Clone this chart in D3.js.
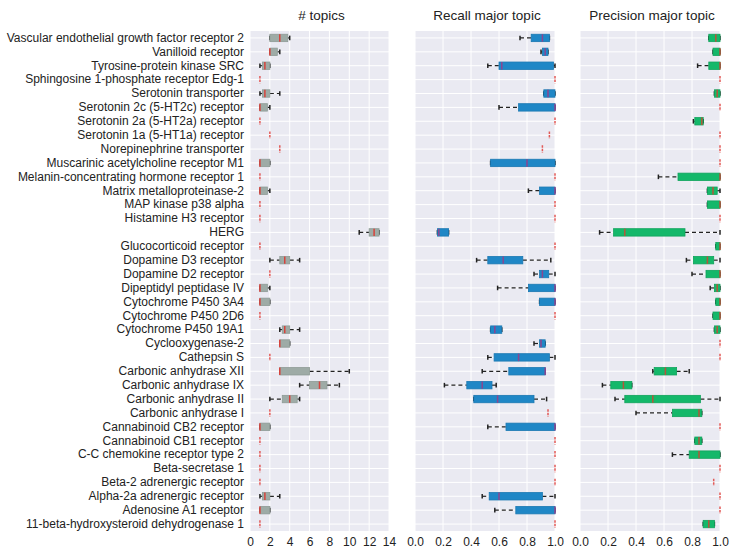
<!DOCTYPE html>
<html>
<head>
<meta charset="utf-8">
<script src="https://cdn.jsdelivr.net/npm/d3@7"></script>
<style>
  html, body { margin: 0; padding: 0; background: #fff; }
  svg { display: block; }
  text { font-family: "Liberation Sans", Arial, sans-serif; fill: #222; }
</style>
</head>
<body>
<svg id="chart" width="733" height="548"></svg>
<script>
const categories = [
  "Vascular endothelial growth factor receptor 2",
  "Vanilloid receptor",
  "Tyrosine-protein kinase SRC",
  "Sphingosine 1-phosphate receptor Edg-1",
  "Serotonin transporter",
  "Serotonin 2c (5-HT2c) receptor",
  "Serotonin 2a (5-HT2a) receptor",
  "Serotonin 1a (5-HT1a) receptor",
  "Norepinephrine transporter",
  "Muscarinic acetylcholine receptor M1",
  "Melanin-concentrating hormone receptor 1",
  "Matrix metalloproteinase-2",
  "MAP kinase p38 alpha",
  "Histamine H3 receptor",
  "HERG",
  "Glucocorticoid receptor",
  "Dopamine D3 receptor",
  "Dopamine D2 receptor",
  "Dipeptidyl peptidase IV",
  "Cytochrome P450 3A4",
  "Cytochrome P450 2D6",
  "Cytochrome P450 19A1",
  "Cyclooxygenase-2",
  "Cathepsin S",
  "Carbonic anhydrase XII",
  "Carbonic anhydrase IX",
  "Carbonic anhydrase II",
  "Carbonic anhydrase I",
  "Cannabinoid CB2 receptor",
  "Cannabinoid CB1 receptor",
  "C-C chemokine receptor type 2",
  "Beta-secretase 1",
  "Beta-2 adrenergic receptor",
  "Alpha-2a adrenergic receptor",
  "Adenosine A1 receptor",
  "11-beta-hydroxysteroid dehydrogenase 1"
];

// [min, q1, median, q3, max] per category
const topicsStats = [
  [2,2,3,3.8,4],[2,2,2,2.75,3],[1,1.25,1.5,2,2],[1,1,1,1,1],[1,1.25,1.5,2,3],
  [1,1,1,1.75,2],[1,1,1,1,1],[2,2,2,2,2],[3,3,3,3,3],[1,1,1,2,2],
  [1,1,1,1,1],[1,1,1,1.75,2],[1,1,1,1,1],[1,1,1,1,1],[11,12,12.5,13,13],
  [1,1,1,1,1],[2,3,3.5,4,5],[2,2,2,2,2],[1,1,1,1.75,2],[1,1,1,2,2],
  [1,1,1,1,1],[3,3.25,3.5,4,5],[3,3,3,4,4],[2,2,2,2,2],[3,3,3,6,10],
  [5,6,7,7.75,9],[2,3.25,4,4.75,5],[2,2,2,2,2],[1,1,1,2,2],[1,1,1,1,1],
  [1,1,1,1,1],[1,1,1,1,1],[1,1,1,1,1],[1,1.25,1.5,2,3],[1,1,1,2,2],
  [1,1,1,1,1]
];

const recallStats = [
  [0.75,0.83,0.91,0.96,0.96],[0.90,0.91,0.93,0.95,0.95],[0.52,0.60,0.62,0.99,1],[1,1,1,1,1],[0.92,0.92,0.95,1,1],
  [0.60,0.74,1,1,1],[1,1,1,1,1],[0.96,0.96,0.96,0.96,0.96],[0.91,0.91,0.91,0.91,0.91],[0.54,0.54,0.80,1,1],
  [1,1,1,1,1],[0.81,0.89,1,1,1],[1,1,1,1,1],[1,1,1,1,1],[0.16,0.16,0.17,0.24,0.24],
  [1,1,1,1,1],[0.44,0.52,0.63,0.77,0.97],[0.85,0.89,0.91,0.955,1],[0.59,0.81,1,1,1],[0.89,0.89,1,1,1],
  [1,1,1,1,1],[0.54,0.54,0.57,0.62,0.62],[0.85,0.89,0.90,0.93,0.93],[0.52,0.565,0.74,0.96,1],[0.48,0.67,0.93,0.93,0.93],
  [0.21,0.37,0.48,0.55,0.58],[0.42,0.42,0.59,0.85,0.94],[0.95,0.95,0.95,0.95,0.95],[0.52,0.65,1,1,1],[1,1,1,1,1],
  [1,1,1,1,1],[1,1,1,1,1],[1,1,1,1,1],[0.48,0.53,0.60,0.91,1],[0.57,0.72,1,1,1],
  [1,1,1,1,1]
];

const precisionStats = [
  [0.92,0.92,0.97,1,1],[0.95,0.95,1,1,1],[0.84,0.92,1,1,1],[1,1,1,1,1],[0.96,0.96,0.98,1,1],
  [1,1,1,1,1],[0.81,0.82,0.87,0.88,0.88],[1,1,1,1,1],[1,1,1,1,1],[1,1,1,1,1],
  [0.56,0.70,1,1,1],[0.91,0.91,0.95,0.98,1],[0.91,0.91,1,1,1],[1,1,1,1,1],[0.14,0.24,0.32,0.75,1],
  [0.97,0.97,1,1,1],[0.76,0.81,0.91,0.955,1],[0.80,0.90,1,1,1],[0.93,0.96,0.98,1,1],[0.97,0.97,1,1,1],
  [0.95,0.95,1,1,1],[0.96,0.96,0.98,1,1],[1,1,1,1,1],[1,1,1,1,1],[0.52,0.53,0.61,0.69,0.78],
  [0.16,0.22,0.31,0.37,0.37],[0.25,0.32,0.52,0.86,1],[0.40,0.66,0.85,0.87,0.87],[1,1,1,1,1],[0.82,0.82,0.85,0.87,0.87],
  [0.66,0.78,0.85,1,1],[1,1,1,1,1],[0.955,0.955,0.955,0.955,0.955],[1,1,1,1,1],[1,1,1,1,1],
  [0.88,0.88,0.92,0.96,0.96]
];

const panelTitles = ["# topics", "Recall major topic", "Precision major topic"];
const topicsTicks = [0,2,4,6,8,10,12,14];
const fracTicks = [0,0.2,0.4,0.6,0.8,1.0];

const svg = d3.select("#chart");
const plotTop = 31, plotBottom = 531;
const y = d3.scaleBand().domain(categories).range([plotTop, plotBottom]).padding(0);

const panels = [
  {title: panelTitles[0], stats: topicsStats, domain: [0,14], range: [250,389], ticks: topicsTicks, fmt: d3.format("d"), fill: "#9eaba6", stroke: "#8e9b96", med: "#d8423c"},
  {title: panelTitles[1], stats: recallStats, domain: [0,1], range: [415,555], ticks: fracTicks, fmt: d3.format(".1f"), fill: "#1f87c6", stroke: "#1a78b2", med: "#8c4590"},
  {title: panelTitles[2], stats: precisionStats, domain: [0,1], range: [580,720], ticks: fracTicks, fmt: d3.format(".1f"), fill: "#14b86a", stroke: "#10a35c", med: "#b5553a"}
];

const boxH = 7.4, capH = 4.6;

panels.forEach((p, pi) => {
  const x = d3.scaleLinear().domain(p.domain).range(p.range);
  const g = svg.append("g");
  g.append("rect").attr("x", p.range[0]).attr("y", plotTop)
    .attr("width", p.range[1]-p.range[0]).attr("height", plotBottom-plotTop).attr("fill", "#eaeaf2");
  g.selectAll(".vg").data(p.ticks).join("line")
    .attr("x1", d => x(d)).attr("x2", d => x(d)).attr("y1", plotTop).attr("y2", plotBottom)
    .attr("stroke", "#fff").attr("stroke-width", 1);
  g.selectAll(".hg").data(categories).join("line")
    .attr("x1", p.range[0]).attr("x2", p.range[1])
    .attr("y1", d => y(d) + y.bandwidth()/2).attr("y2", d => y(d) + y.bandwidth()/2)
    .attr("stroke", "#fff").attr("stroke-width", 1);

  const rows = g.selectAll(".row").data(categories.map((c,i) => ({c, s: p.stats[i]}))).join("g")
    .attr("transform", d => `translate(0,${y(d.c) + y.bandwidth()/2})`);

  rows.filter(d => d.s[0] < d.s[1]).append("line")
    .attr("x1", d => x(d.s[0])).attr("x2", d => x(d.s[1])).attr("y1", 0).attr("y2", 0)
    .attr("stroke", "#222").attr("stroke-width", 1.2).attr("stroke-dasharray", "4,3");
  rows.filter(d => d.s[4] > d.s[3]).append("line")
    .attr("x1", d => x(d.s[3])).attr("x2", d => x(d.s[4])).attr("y1", 0).attr("y2", 0)
    .attr("stroke", "#222").attr("stroke-width", 1.2).attr("stroke-dasharray", "4,3");
  rows.filter(d => d.s[0] < d.s[4]).each(function(d) {
    const r = d3.select(this);
    [d.s[0], d.s[4]].forEach(v => {
      r.append("line").attr("x1", x(v)).attr("x2", x(v)).attr("y1", -capH/2).attr("y2", capH/2)
        .attr("stroke", "#222").attr("stroke-width", 1.5);
    });
  });
  rows.filter(d => d.s[3] > d.s[1]).append("rect")
    .attr("x", d => x(d.s[1])).attr("y", -boxH/2)
    .attr("width", d => x(d.s[3]) - x(d.s[1])).attr("height", boxH)
    .attr("fill", p.fill).attr("stroke", p.stroke).attr("stroke-width", 0.8);
  rows.append("line")
    .attr("x1", d => x(d.s[2])).attr("x2", d => x(d.s[2]))
    .attr("y1", -boxH/2).attr("y2", boxH/2)
    .attr("stroke", d => d.s[1] === d.s[3] ? "#e25a57" : p.med)
    .attr("stroke-width", 1.5)
    .attr("stroke-dasharray", d => d.s[1] === d.s[3] ? "2.5,1" : null);

  const ax = svg.append("g").attr("transform", `translate(0,${plotBottom})`)
    .call(d3.axisBottom(x).tickValues(p.ticks).tickFormat(p.fmt).tickSize(0).tickPadding(6));
  ax.select(".domain").remove();
  ax.selectAll("text").style("font-size", "12px").style("font-family", '"Liberation Sans", Arial, sans-serif').attr("fill", "#222");

  svg.append("text").attr("x", (p.range[0] + p.range[1]) / 2 + 2).attr("y", 20)
    .attr("text-anchor", "middle").style("font-size", "13.5px").text(p.title);

  if (pi === 0) {
    const ay = svg.append("g").attr("transform", `translate(${p.range[0]},0)`)
      .call(d3.axisLeft(y).tickSize(0).tickPadding(6));
    ay.select(".domain").remove();
    ay.selectAll("text").style("font-size", "12px").style("font-family", '"Liberation Sans", Arial, sans-serif').attr("fill", "#222");
  }
});
</script>
</body>
</html>
